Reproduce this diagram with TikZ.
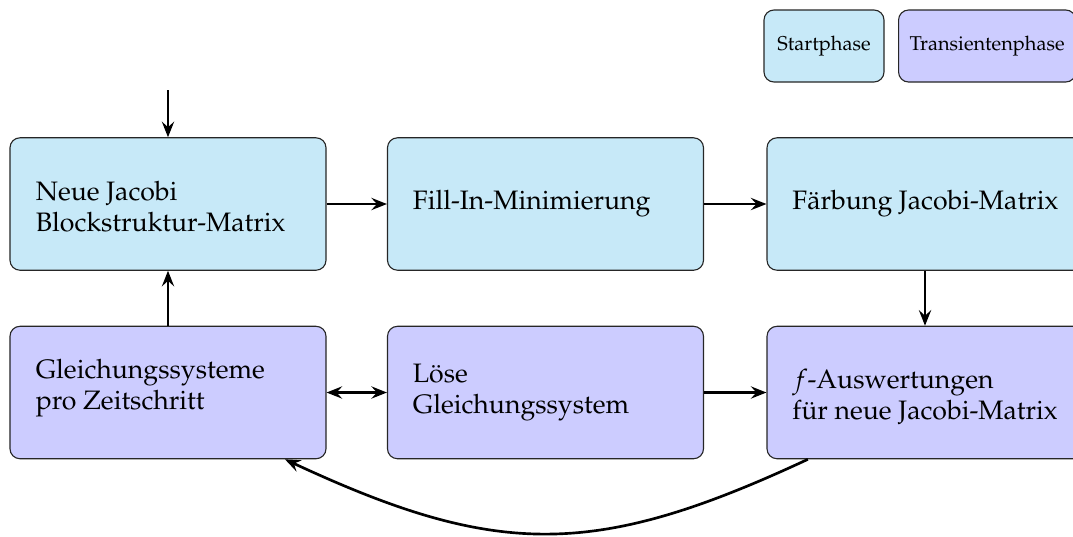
\documentclass[tikz,border=0pt]{standalone}
\usepackage[T1]{fontenc}
\usepackage{mathpazo}
\usetikzlibrary{arrows.meta}
\definecolor{startfill}{RGB}{199,233,248}
\definecolor{transfill}{RGB}{204,204,255}
\tikzset{
  px/.style={x=0.45pt,y=-0.45pt},
  phasebox/.style={draw=black!85, line width=0.5pt, rounded corners=4.5pt,
    minimum width=142.2pt, minimum height=59.6pt, inner sep=0pt},
  startbox/.style={phasebox, fill=startfill},
  transbox/.style={phasebox, fill=transfill},
  legbox/.style={draw=black!85, line width=0.5pt, rounded corners=4.5pt,
    minimum height=32.4pt, inner xsep=5pt, font=\small},
  boxtext/.style={anchor=west, align=left, inner sep=0pt, font=\large},
  flow/.style={line width=1.2pt, -{Stealth[length=7pt,width=5.5pt,inset=2.5pt]}},
  flowboth/.style={line width=1.2pt, {Stealth[length=7pt,width=5.5pt,inset=2.5pt]}-{Stealth[length=7pt,width=5.5pt,inset=2.5pt]}},
}
\begin{document}
\begin{tikzpicture}[px]
  \useasboundingbox (0,0) rectangle (1073,536);

  % legend
  \node[legbox, fill=startfill, minimum width=54pt] (legS) at (824,46) {Startphase};
  \node[legbox, fill=transfill, anchor=west] (legT) at (898,46) {Transientenphase};

  % start phase
  \node[startbox] (jac) at (168,204) {};
  \node[startbox] (fill) at (545.5,204) {};
  \node[startbox] (col) at (925,204) {};
  % transient phase
  \node[transbox] (gls) at (168,392.5) {};
  \node[transbox] (solve) at (545.5,392.5) {};
  \node[transbox] (feval) at (925,392.5) {};

  % labels
  \node[boxtext] (tjac) at ([xshift=11.7pt,yshift=-1pt]jac.west) {Neue Jacobi\\Blockstruktur-Matrix};
  \node[boxtext] (tfill) at ([xshift=11.5pt]fill.west) {Fill-In-Minimierung};
  \node[boxtext] (tcol) at ([xshift=11.5pt]col.west) {F\"arbung Jacobi-Matrix};
  \node[boxtext] (tgls) at ([xshift=11.7pt,yshift=2pt]gls.west) {Gleichungssysteme\\pro Zeitschritt};
  \node[boxtext] (tsolve) at ([xshift=11.5pt]solve.west) {L\"ose\\Gleichungssystem};
  \node[boxtext] (tfeval) at ([xshift=11.5pt,yshift=-2pt]feval.west) {$f$-Auswertungen\\f\"ur neue Jacobi-Matrix};

  % entry point
  \coordinate (in) at (168,90);
  \draw[flow] (in) -- (jac.north);

  % connectors
  \draw[flow] (jac.east) -- (fill.west);
  \draw[flow] (fill.east) -- (col.west);
  \draw[flow] (col.south) -- (feval.north);
  \draw[flow] (gls.north) -- (jac.south);
  \draw[flowboth] (gls.east) -- (solve.west);
  \draw[flow] (solve.east) -- (feval.west);
  \draw[flow] ([xshift=-52.7pt]feval.south) to[out=-155,in=-25,looseness=1.15] ([xshift=52.6pt]gls.south);
\end{tikzpicture}
\end{document}
